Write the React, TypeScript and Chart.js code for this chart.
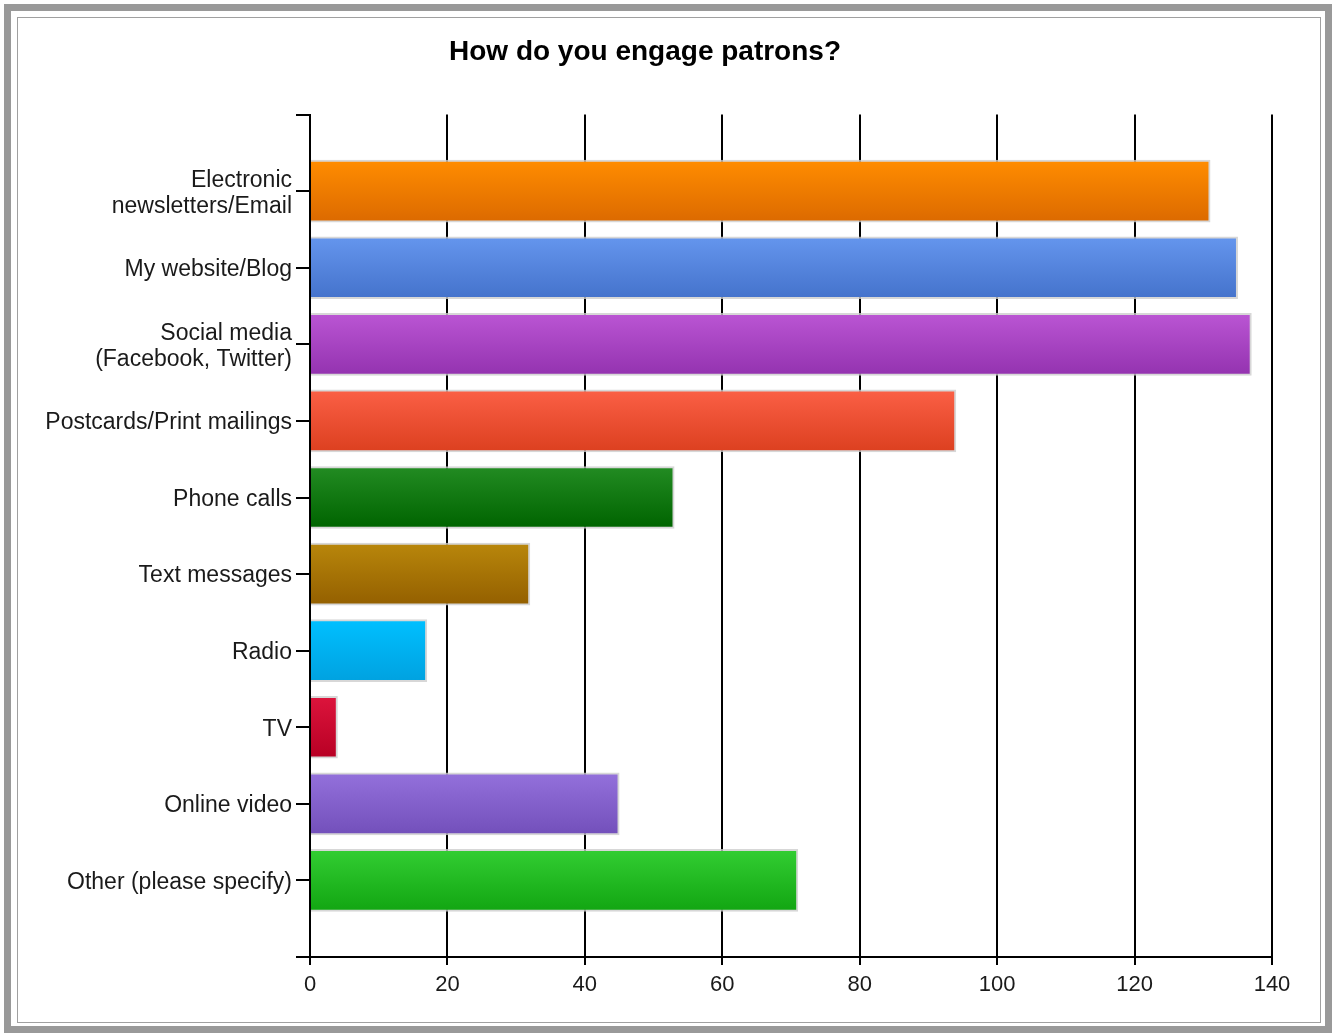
import React, { useEffect, useRef } from "react";
import { Chart, registerables } from "chart.js";

Chart.register(...registerables);

const TITLE = "How do you engage patrons?";
const CATEGORIES: (string | string[])[] = [
  ["Electronic", "newsletters/Email"],
  "My website/Blog",
  ["Social media", "(Facebook, Twitter)"],
  "Postcards/Print mailings",
  "Phone calls",
  "Text messages",
  "Radio",
  "TV",
  "Online video",
  "Other (please specify)",
];
const VALUES = [131, 135, 137, 94, 53, 32, 17, 4, 45, 71];
const X_MIN = 0;
const X_MAX = 140;
const X_STEP = 20;
const TOP_COLORS = [
  "#ff8c00", "#6495ed", "#ba55d3", "#fa5f45", "#228b22",
  "#b8860b", "#00bfff", "#dc143c", "#9370db", "#32cd32",
];
const BOTTOM_COLORS = [
  "#dc6a00", "#4573cc", "#9433b0", "#dc4020", "#006400",
  "#946000", "#00a2e0", "#b80024", "#7350bb", "#12a612",
];

const FONT = "'Liberation Sans', Arial, sans-serif";

export default function App() {
  const canvasRef = useRef<HTMLCanvasElement | null>(null);

  useEffect(() => {
    document.documentElement.style.overflow = "hidden";
    document.body.style.margin = "0";
    const canvas = canvasRef.current;
    if (!canvas) return;
    const labels = ["", ...CATEGORIES, ""];
    const data = [null, ...VALUES, null];

    const colorFor = (ctx: any) => {
      const i = ctx.dataIndex - 1;
      const chart = ctx.chart;
      const top = TOP_COLORS[i] || "#888";
      const bottom = BOTTOM_COLORS[i] || "#666";
      if (!chart.chartArea || !chart.scales || !chart.scales.y) return top;
      const y = chart.scales.y.getPixelForValue(ctx.dataIndex);
      const g = chart.ctx.createLinearGradient(0, y - 30, 0, y + 30);
      g.addColorStop(0, top);
      g.addColorStop(1, bottom);
      return g;
    };

    const chart = new Chart(canvas, {
      type: "bar",
      data: {
        labels,
        datasets: [
          {
            data,
            backgroundColor: colorFor,
            borderColor: "rgba(205,205,205,0.8)",
            borderWidth: 2,
            borderSkipped: "start",
            barThickness: 62,
          },
        ],
      },
      options: {
        indexAxis: "y",
        animation: false,
        responsive: false,
        layout: { padding: { left: 0, right: 48, top: 0, bottom: 0 } },
        plugins: {
          legend: { display: false },
          tooltip: { enabled: false },
          title: {
            display: true,
            text: TITLE,
            color: "#000",
            font: { family: FONT, size: 28, weight: "bold", lineHeight: 1.2 },
            padding: { top: 17, bottom: 46 },
          },
        },
        scales: {
          x: {
            type: "linear",
            min: X_MIN,
            max: X_MAX,
            ticks: {
              stepSize: X_STEP,
              color: "#1a1a1a",
              font: { family: FONT, size: 22 },
              padding: 7,
            },
            grid: {
              color: "#000",
              lineWidth: 2,
              tickLength: 8,
              drawTicks: true,
            },
            border: { color: "#000", width: 2 },
            afterFit: (scale: any) => {
              scale.height = 65;
            },
          },
          y: {
            type: "category",
            offset: false,
            ticks: {
              color: "#1a1a1a",
              font: { family: FONT, size: 23, lineHeight: 1.13 },
              padding: 4,
              labelOffset: 2,
              autoSkip: false,
            },
            grid: {
              offset: false,
              color: "#000",
              lineWidth: 2,
              drawOnChartArea: false,
              drawTicks: true,
              tickLength: 14,
            },
            border: { color: "#000", width: 2 },
            afterFit: (scale: any) => {
              scale.width = 292;
            },
          },
        },
      },
    } as any);
    return () => chart.destroy();
  }, []);

  return (
    <div style={{ position: "absolute", left: 0, top: 0, width: 1332, height: 1033, background: "#fff" }}>
      <div
        style={{
          position: "absolute",
          left: 4,
          top: 4,
          width: 1328,
          height: 1029,
          border: "7px solid #999",
          boxSizing: "border-box",
        }}
      />
      <div
        style={{
          position: "absolute",
          left: 17,
          top: 17,
          width: 1304,
          height: 1006,
          border: "1px solid #a0a0a0",
          boxSizing: "border-box",
        }}
      />
      <canvas
        ref={canvasRef}
        width={1302}
        height={1004}
        style={{ position: "absolute", left: 18, top: 18, width: 1302, height: 1004 }}
      />
    </div>
  );
}
